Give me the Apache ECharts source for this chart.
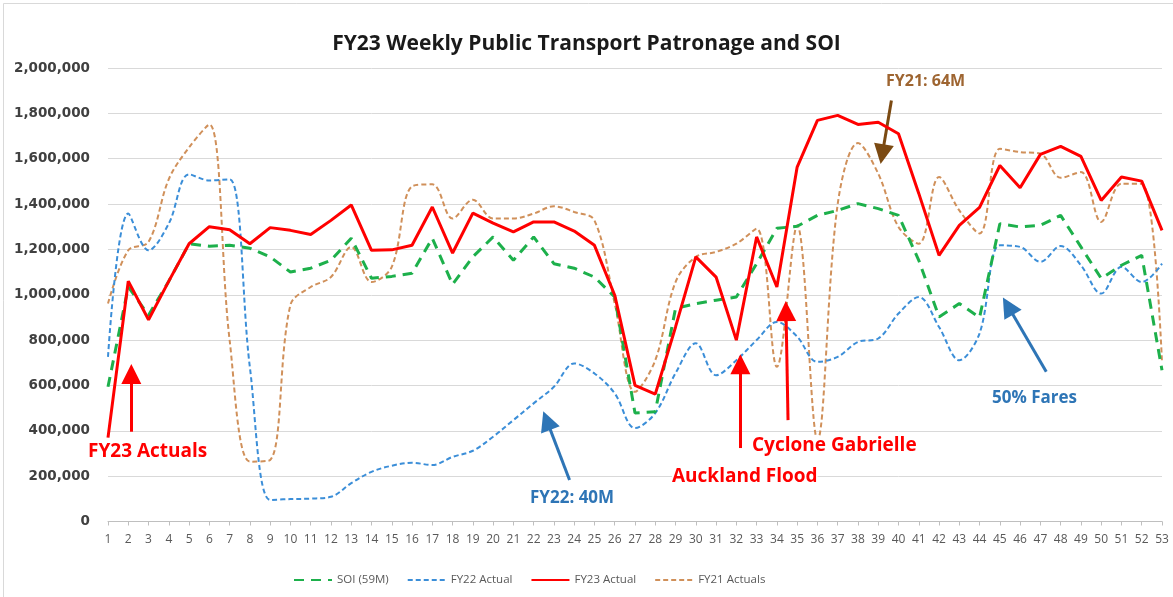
<!DOCTYPE html>
<html>
<head>
<meta charset="utf-8">
<script src="https://cdn.jsdelivr.net/npm/echarts@6/dist/echarts.min.js"></script>
<style>html,body{margin:0;padding:0;background:#fff;}#c{width:1173px;height:597px;}</style>
</head>
<body>
<div id="c"></div>
<script>
// ---- data ----
var weeks = [];
for (var i = 1; i <= 53; i++) weeks.push(i);

var soi = [594000,1035000,910000,1060000,1225000,1214000,1218000,1205000,1167000,1100000,1117000,1152000,1249000,1073000,1081000,1095000,1249000,1046000,1167000,1255000,1152000,1255000,1137000,1117000,1078000,990000,478000,484000,940000,961000,976000,990000,1137000,1293000,1302000,1350000,1372000,1402000,1380000,1350000,1152000,902000,961000,900000,1313000,1299000,1306000,1350000,1211000,1072000,1130000,1174000,667000];

var fy22 = [726000,1358000,1196000,1314000,1531000,1504000,1509000,680000,95000,99000,101000,109000,169000,219000,246000,259000,249000,285000,312000,374000,447000,521000,594000,697000,653000,565000,412000,478000,654000,786000,645000,711000,800000,880000,815000,704000,726000,792000,807000,917000,990000,858000,711000,830000,1218000,1211000,1145000,1215000,1130000,1005000,1123000,1056000,1137000];

var fy23 = [370000,1060000,890000,1060000,1225000,1300000,1287000,1225000,1296000,1284000,1266000,1328000,1396000,1196000,1198000,1218000,1387000,1184000,1360000,1316000,1277000,1321000,1321000,1281000,1218000,998000,600000,562000,858000,1167000,1078000,800000,1255000,1034000,1563000,1769000,1791000,1751000,1761000,1710000,1447000,1174000,1306000,1385000,1570000,1472000,1619000,1654000,1610000,1416000,1519000,1501000,1284000];

var fy21 = [961000,1196000,1233000,1510000,1650000,1751000,800000,264000,271000,955000,1034000,1078000,1211000,1056000,1123000,1478000,1487000,1336000,1419000,1336000,1336000,1358000,1390000,1365000,1328000,961000,572000,711000,1056000,1167000,1189000,1225000,1291000,682000,1306000,360000,1400000,1669000,1534000,1299000,1225000,1519000,1372000,1270000,1644000,1629000,1622000,1516000,1541000,1321000,1490000,1490000,700000];

var yTicks = [0,200000,400000,600000,800000,1000000,1200000,1400000,1600000,1800000,2000000];

// annotation arrows: [tailWeek, tailValue, headWeek, headValue, color]
var arrows = [
  [2.15, 396000, 2.15, 650000, '#FF0000'],
  [32.2, 324000, 32.2, 693000, '#FF0000'],
  [34.55, 447000, 34.45, 928000, '#FF0000'],
  [23.77, 183000, 22.65, 445000, '#2E75B6'],
  [47.29, 660000, 45.4, 950000, '#2E75B6'],
  [39.65, 1857000, 39.2, 1620000, '#7B4A12']
];

function pairs(arr){ return arr.map(function(v,i){ return [weeks[i], v]; }); }

var chart = echarts.init(document.getElementById('c'), null, {renderer:'canvas'});
var F = '"Open Sans", "Liberation Sans", sans-serif';

var arrowLines = arrows.map(function(a){
  return [
    {coord:[a[0], a[1]], symbol:'none', lineStyle:{color:a[4], width:3, type:'solid'}},
    {coord:[a[2], a[3]], symbol:'triangle', symbolSize:[20, 20], itemStyle:{color:a[4]}}
  ];
});

chart.setOption({
  animation:false,
  backgroundColor:'#fff',
  title:{
    text:'FY23 Weekly Public Transport Patronage and SOI',
    left:'center', top:29,
    textStyle:{fontFamily:F, fontSize:21, fontWeight:'bold', color:'#1a1a1a'}
  },
  grid:{left:108, right:11, top:68, bottom:75.5, containLabel:false},
  xAxis:{
    type:'value', min:1, max:53, interval:1,
    axisLine:{show:true, lineStyle:{color:'#bfbfbf'}},
    axisTick:{show:true, length:4, lineStyle:{color:'#bfbfbf'}},
    splitLine:{show:false},
    axisLabel:{fontFamily:F, fontSize:12, color:'#595959', margin:12}
  },
  yAxis:{
    type:'value', min:0, max:2000000, interval:200000,
    axisLine:{show:false}, axisTick:{show:false},
    splitLine:{lineStyle:{color:'#d9d9d9', width:1}},
    axisLabel:{fontFamily:'"DejaVu Sans", sans-serif', fontSize:13.5, fontWeight:'bold', color:'#404040', margin:18,
      formatter:function(v){ return v.toLocaleString('en-US'); }}
  },
  legend:{
    left:288, top:569, itemWidth:38, itemHeight:14, itemGap:18,
    itemStyle:{opacity:0},
    textStyle:{fontFamily:F, fontSize:11.5, color:'#595959'},
    data:['SOI (59M)','FY22 Actual','FY23 Actual','FY21 Actuals']
  },
  series:[
    {name:'FY21 Actuals', type:'line', data:pairs(fy21), symbol:'none', smooth:0.35, z:2,
      lineStyle:{color:'#D0905A', width:2, type:[5,3]}, itemStyle:{color:'#D0905A'}},
    {name:'FY22 Actual', type:'line', data:pairs(fy22), symbol:'none', smooth:0.35, z:3,
      lineStyle:{color:'#3B8ED8', width:2, type:[5,3]}, itemStyle:{color:'#3B8ED8'}},
    {name:'SOI (59M)', type:'line', data:pairs(soi), symbol:'none', z:4,
      lineStyle:{color:'#1DB04B', width:3, type:[10,7]}, itemStyle:{color:'#1DB04B'}},
    {name:'FY23 Actual', type:'line', data:pairs(fy23), symbol:'none', z:5,
      lineStyle:{color:'#FF0000', width:3}, itemStyle:{color:'#FF0000'},
      markLine:{silent:true, animation:false, symbol:['none','triangle'], label:{show:false},
        data:arrowLines}}
  ],
  graphic:[
    {type:'rect', shape:{x:3.5, y:3.5, width:1200, height:620}, style:{fill:'none', stroke:'#d9d9d9', lineWidth:1}, silent:true},
    {type:'text', left:88, top:442, z:10, style:{text:'FY23 Actuals', fill:'#FF0000', font:'bold 19px '+F, backgroundColor:'#fff'}},
    {type:'text', left:530, top:490, z:10, style:{text:'FY22: 40M', fill:'#2E75B6', font:'bold 17px '+F, backgroundColor:'#fff'}},
    {type:'text', left:672, top:467, z:10, style:{text:'Auckland Flood', fill:'#FF0000', font:'bold 19px '+F, backgroundColor:'#fff'}},
    {type:'text', left:752, top:436, z:10, style:{text:'Cyclone Gabrielle', fill:'#FF0000', font:'bold 19px '+F, backgroundColor:'#fff'}},
    {type:'text', left:992, top:390, z:10, style:{text:'50% Fares', fill:'#2E75B6', font:'bold 17px '+F, backgroundColor:'#fff'}},
    {type:'text', left:886, top:73, z:10, style:{text:'FY21: 64M', fill:'#9E6531', font:'bold 16px '+F}}
  ]
});
</script>
</body>
</html>
